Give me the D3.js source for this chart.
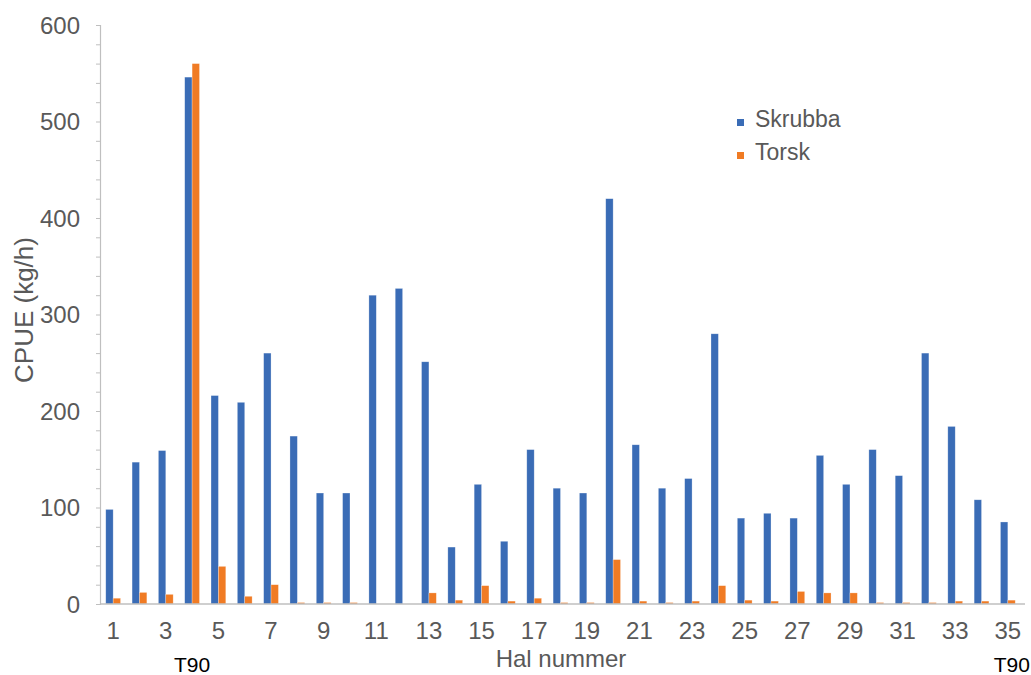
<!DOCTYPE html>
<html>
<head>
<meta charset="utf-8">
<script src="https://cdn.jsdelivr.net/npm/d3@7/dist/d3.min.js"></script>
<style>
  html, body { margin: 0; padding: 0; background: #fff; }
  svg { display: block; font-family: "Liberation Sans", Arial, sans-serif; }
</style>
</head>
<body>
<svg id="chart" width="1031" height="675"></svg>
<script>
// Haul numbers 1..35
const hauls = d3.range(1, 36);
const seriesNames = ["Skrubba", "Torsk"];
const seriesColors = ["#3a6cb6", "#f07b24"];

// CPUE (kg/h) per haul
const skrubba = [98, 147, 159, 546, 216, 209, 260, 174, 115, 115,
                 320, 327, 251, 59, 124, 65, 160, 120, 115, 420,
                 165, 120, 130, 280, 89, 94, 89, 154, 124, 160,
                 133, 260, 184, 108, 85];
const torsk   = [6, 12, 10, 560, 39, 8, 20, 1.5, 1.5, 1.5,
                 0, 0, 11.5, 4, 19, 3, 6, 1.5, 1.5, 46,
                 3, 1.5, 3, 19, 4, 3, 13, 11.5, 11.5, 1.5,
                 1.5, 1.5, 3, 3, 4];

const yTicks = [0, 100, 200, 300, 400, 500, 600];
const xTickLabels = hauls.filter(h => h % 2 === 1);
const gearNotes = [{ haul: 4, text: "T90" }, { haul: 35, text: "T90" }];

const svg = d3.select("#chart");
const textColor = "#595959";
const axisColor = "#bfbfbf";

const x0 = d3.scaleBand().domain(hauls).range([100, 1021]).padding(0);
const x1 = d3.scaleBand().domain(seriesNames).range([0, x0.bandwidth()])
  .paddingInner(0).paddingOuter(0.78);
const y = d3.scaleLinear().domain([0, 600]).range([604, 25]);

// Y axis with minor ticks every 20
const yAxis = d3.axisLeft(y).tickValues(d3.range(0, 601, 20)).tickSize(4).tickFormat("");
const gy = svg.append("g").attr("transform", "translate(100,0)").call(yAxis);
gy.select(".domain").attr("stroke", axisColor).attr("stroke-width", 1.2);
gy.selectAll(".tick line").attr("stroke", axisColor).attr("stroke-width", 1);

svg.append("g").selectAll("text").data(yTicks).join("text")
  .attr("x", 80).attr("y", d => y(d)).attr("dy", "0.36em")
  .attr("text-anchor", "end").attr("fill", textColor)
  .attr("font-size", 24).text(d => d);

// Bars
const data = hauls.map((h, i) => ({ haul: h, values: [skrubba[i], torsk[i]] }));
const groups = svg.append("g").selectAll("g").data(data).join("g")
  .attr("transform", d => `translate(${x0(d.haul)},0)`);
groups.selectAll("rect")
  .data(d => d.values.map((v, k) => ({ key: seriesNames[k], value: v, color: seriesColors[k] })))
  .join("rect")
  .attr("x", d => x1(d.key))
  .attr("width", x1.bandwidth())
  .attr("y", d => y(d.value))
  .attr("height", d => y(0) - y(d.value))
  .attr("fill", d => d.color)
  .attr("stroke", "#ffffff").attr("stroke-opacity", 0.45).attr("stroke-width", 0.6);

// X axis line
svg.append("line").attr("x1", 100).attr("x2", 1025)
  .attr("y1", y(0)).attr("y2", y(0))
  .attr("stroke", axisColor).attr("stroke-width", 1.5);

// X tick labels (odd hauls)
svg.append("g").selectAll("text").data(xTickLabels).join("text")
  .attr("x", d => x0(d) + x0.bandwidth() / 2).attr("y", 639)
  .attr("text-anchor", "middle").attr("fill", textColor)
  .attr("font-size", 24).text(d => d);

// Gear notes under selected hauls
svg.append("g").selectAll("text").data(gearNotes).join("text")
  .attr("x", d => x0(d.haul) + x0.bandwidth() / 2 + (d.haul === 35 ? 4 : 0)).attr("y", 672)
  .attr("text-anchor", "middle").attr("fill", "#000")
  .attr("font-size", 21).text(d => d.text);

// Axis titles
svg.append("text").attr("x", 561).attr("y", 667)
  .attr("text-anchor", "middle").attr("fill", textColor)
  .attr("font-size", 24).text("Hal nummer");
svg.append("text").attr("transform", "translate(33,310) rotate(-90)")
  .attr("text-anchor", "middle").attr("fill", textColor)
  .attr("font-size", 26).text("CPUE (kg/h)");

// Legend
const legend = svg.append("g").selectAll("g").data(seriesNames).join("g")
  .attr("transform", (d, i) => `translate(737,${127 + i * 33})`);
legend.append("rect").attr("x", 0).attr("y", -8).attr("width", 7).attr("height", 7)
  .attr("fill", (d, i) => seriesColors[i]);
legend.append("text").attr("x", 18).attr("y", 0)
  .attr("fill", textColor).attr("font-size", 23).text(d => d);
</script>
</body>
</html>
